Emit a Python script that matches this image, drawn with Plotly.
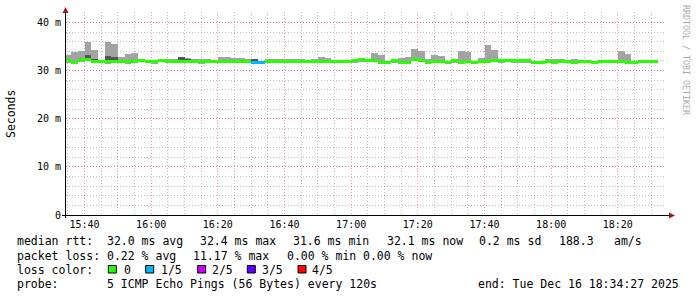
import plotly.graph_objects as go
import pandas as pd

# ---------------- data ----------------
step_start = "2025-12-16 15:35:00"   # centre of first 2-minute step
n_steps = 89
median_ms = [32.0, 31.75, 32.35, 32.35, 31.8, 31.85, 31.85, 31.85, 31.85, 31.85,
             31.85, 32.05, 31.85, 31.85, 32.05, 31.95, 31.95, 31.95, 31.95, 31.95,
             31.95, 31.95, 31.8, 31.9, 31.9, 31.9, 31.9, 31.9, 31.75, 31.75,
             31.9, 31.9, 31.9, 31.9, 31.9, 31.9, 31.9, 31.9, 31.9, 31.9,
             31.9, 31.9, 31.9, 32.0, 32.2, 32.1, 32.05, 31.75, 31.75, 32.0,
             31.75, 31.75, 32.25, 32.1, 31.75, 31.95, 31.95, 31.75, 32.0, 31.75,
             31.95, 31.75, 31.95, 31.95, 32.15, 32.0, 32.0, 32.0, 32.0, 32.0,
             31.75, 31.75, 31.95, 31.75, 31.95, 31.95, 31.75, 31.95, 31.95, 31.75,
             31.95, 31.95, 31.95, 31.95, 31.75, 31.75, 31.85, 31.8, 31.95]
smoke_hi = [33.3, 33.75, 34.0, 35.9, 34.35, 32.0, 35.95, 35.6, 32.9, 33.5,
            33.6, 32.4, 32.0, 32.0, 32.5, 32.3, 32.3, 32.75, 32.6, 32.3,
            32.45, 32.3, 31.95, 32.9, 32.9, 32.55, 32.7, 32.45, 32.3, 31.9,
            32.3, 32.4, 32.5, 32.35, 32.5, 32.5, 32.0, 32.4, 32.75, 32.55,
            32.1, 32.2, 32.2, 32.1, 32.3, 32.2, 33.7, 33.3, 31.9, 32.1,
            32.65, 32.85, 34.5, 34.0, 32.4, 33.3, 32.95, 31.9, 32.1, 34.15,
            33.8, 31.9, 32.65, 35.4, 34.3, 32.1, 32.45, 32.1, 32.1, 32.1,
            31.9, 31.9, 32.35, 32.45, 32.45, 32.05, 32.45, 32.05, 32.05, 31.9,
            32.05, 32.05, 32.05, 34.0, 33.5, 31.9, 32.0, 31.95, 32.05]
smoke_lo = [31.6, 31.5, 31.8, 31.9, 31.5, 31.55, 31.45, 31.55, 31.55, 31.45,
            31.55, 31.7, 31.55, 31.45, 31.7, 31.65, 31.65, 31.65, 31.65, 31.65,
            31.45, 31.65, 31.5, 31.6, 31.6, 31.6, 31.6, 31.6, 31.5, 31.5,
            31.6, 31.6, 31.6, 31.6, 31.6, 31.6, 31.6, 31.6, 31.6, 31.6,
            31.6, 31.6, 31.6, 31.7, 31.9, 31.8, 31.7, 31.5, 31.5, 31.7,
            31.5, 31.5, 31.9, 31.8, 31.5, 31.65, 31.65, 31.5, 31.7, 31.5,
            31.65, 31.5, 31.65, 31.65, 31.85, 31.7, 31.7, 31.7, 31.7, 31.7,
            31.5, 31.5, 31.65, 31.5, 31.65, 31.65, 31.5, 31.65, 31.65, 31.5,
            31.65, 31.65, 31.65, 31.65, 31.5, 31.5, 31.55, 31.5, 31.65]
dark_steps = [0, 2, 3, 4, 6, 7, 17, 18, 28, 30, 41, 42, 52]
dark_lo = [31.95, 32.3, 32.3, 31.8, 31.8, 31.8, 31.9, 31.9, 31.9, 31.9, 31.9, 31.9, 32.2]
dark_hi = [32.4, 32.6, 33.3, 32.45, 33.1, 32.8, 32.75, 32.45, 32.3, 32.2, 32.15, 32.15, 32.65]
loss_steps = [28, 29]            # steps with 1/5 loss, all others 0
loss_labels = ["0", "1/5", "2/5", "3/5", "4/5"]
loss_colors = ["#26ff00", "#00b8ff", "#cc00ff", "#5e00ff", "#ff0000"]

y_tickvals = [0, 10, 20, 30, 40]
y_ticktext = ["0", "10 m", "20 m", "30 m", "40 m"]

legend_rows = [
    [(16.7, "median rtt:"), (107.3, "32.0 ms avg"), (200.0, "32.4 ms max"),
     (293.3, "31.6 ms min"), (386.7, "32.1 ms now"), (479.3, "0.2 ms sd"),
     (559.3, "188.3"), (614.3, "am/s")],
    [(16.7, "packet loss:"), (107.3, "0.22 % avg"), (193.3, "11.17 % max"),
     (286.7, "0.00 % min"), (363.3, "0.00 % now")],
    [(16.7, "loss color:")],
    [(16.7, "probe:"), (107.3, "5 ICMP Echo Pings (56 Bytes) every 120s"),
     (478.3, "end: Tue Dec 16 18:34:27 2025")],
]
legend_row_y = [241, 255.5, 269.5, 284]
loss_box_x = [108.3, 145.7, 197.7, 247.3, 298.0]
loss_text_x = [124.0, 160.7, 212.3, 262.3, 312.3]

# ---------------- layout geometry ----------------
W, H = 697, 297
L, R, T, B = 66, 31, 12, 82
PW, PH = W - L - R, H - T - B


def px(xp):
    return (xp - L) / PW


def py(yp):
    return (H - B - yp) / PH


times = pd.date_range(step_start, periods=n_steps, freq="2min")
step_ms = 120000
MONO = "DejaVu Sans Mono"

fig = go.Figure()

# light smoke
fig.add_trace(go.Bar(
    x=times, base=smoke_lo, y=[h - l for h, l in zip(smoke_hi, smoke_lo)],
    width=step_ms, marker=dict(color="#a3a3a3", line=dict(width=0)),
    hoverinfo="skip"))

# dark smoke
fig.add_trace(go.Bar(
    x=[times[i] for i in dark_steps], base=dark_lo,
    y=[h - l for h, l in zip(dark_hi, dark_lo)],
    width=step_ms, marker=dict(color="#555555", line=dict(width=0)),
    hoverinfo="skip"))

# median line coloured by loss
thick = 0.62
med_colors = [loss_colors[1] if i in loss_steps else loss_colors[0] for i in range(n_steps)]
fig.add_trace(go.Bar(
    x=times, base=[m - thick / 2 for m in median_ms], y=[thick] * n_steps,
    width=step_ms, marker=dict(color=med_colors, line=dict(width=0)),
    hoverinfo="skip"))

major_grid = "rgba(240,80,80,0.55)"
minor_grid = "rgba(120,120,120,0.45)"

fig.update_layout(
    width=W, height=H, margin=dict(l=L, r=R, t=T, b=B),
    paper_bgcolor="white", plot_bgcolor="white",
    showlegend=False, barmode="overlay", bargap=0,
    xaxis=dict(
        type="date",
        range=["2025-12-16 15:34:27", "2025-12-16 18:34:27"],
        tickformat="%H:%M", dtick=1200000, tick0="2025-12-16 15:40:00",
        ticks="", showline=False, zeroline=False,
        showgrid=True, gridcolor=major_grid, griddash="1px,2px", gridwidth=1,
        minor=dict(dtick=300000, tick0="2025-12-16 15:40:00", showgrid=True,
                   gridcolor=minor_grid, griddash="1px,2px", gridwidth=1),
        tickfont=dict(family=MONO, size=10, color="#000000"),
        ticklabelstandoff=2,
    ),
    yaxis=dict(
        range=[0, PH / 4.815],
        tickmode="array", tickvals=y_tickvals, ticktext=y_ticktext,
        ticks="", showline=False, zeroline=False,
        showgrid=True, gridcolor=major_grid, griddash="1px,2px", gridwidth=1,
        minor=dict(dtick=2, tick0=0, showgrid=True,
                   gridcolor=minor_grid, griddash="1px,2px", gridwidth=1),
        tickfont=dict(family=MONO, size=10, color="#000000"),
        ticklabelstandoff=4,
    ),
)

shapes = []
# axis lines
shapes.append(dict(type="line", xref="paper", yref="paper",
                   x0=px(62), x1=px(670), y0=py(215.5), y1=py(215.5),
                   line=dict(color="#000000", width=1)))
shapes.append(dict(type="line", xref="paper", yref="paper",
                   x0=px(65.5), x1=px(65.5), y0=py(218), y1=py(11),
                   line=dict(color="#000000", width=1)))
arrow_col = "#a01818"
shapes.append(dict(type="path", xref="paper", yref="paper",
                   path=f"M {px(65.5)},{py(7)} L {px(62.5)},{py(13)} L {px(68.5)},{py(13)} Z",
                   fillcolor=arrow_col, line=dict(width=0)))
shapes.append(dict(type="path", xref="paper", yref="paper",
                   path=f"M {px(675)},{py(215.5)} L {px(669)},{py(212.5)} L {px(669)},{py(218.5)} Z",
                   fillcolor=arrow_col, line=dict(width=0)))
# loss colour boxes
for bx, col in zip(loss_box_x, loss_colors):
    shapes.append(dict(type="rect", xref="paper", yref="paper",
                       x0=px(bx), x1=px(bx + 8), y0=py(265.5), y1=py(273),
                       fillcolor=col, line=dict(color="#000000", width=1)))
fig.update_layout(shapes=shapes)

ann = []


def txt(xp, yp, s, size=11.5, color="#000000", angle=0, xanchor="left"):
    ann.append(dict(xref="paper", yref="paper", x=px(xp), y=py(yp), text=s,
                    showarrow=False, xanchor=xanchor, yanchor="middle",
                    textangle=angle, borderpad=0,
                    font=dict(family=MONO, size=size, color=color)))


for row, yrow in zip(legend_rows, legend_row_y):
    for xp, s in row:
        txt(xp - 1, yrow, s)
for xp, s in zip(loss_text_x, loss_labels):
    txt(xp - 1, legend_row_y[2], s)

txt(11, 114, "Seconds", angle=-90, xanchor="center")
txt(686, 60, "RRDTOOL / TOBI OETIKER", size=8.3, color="#ababab", angle=90,
    xanchor="center")

fig.update_layout(annotations=ann)
fig.write_html("out.html")
